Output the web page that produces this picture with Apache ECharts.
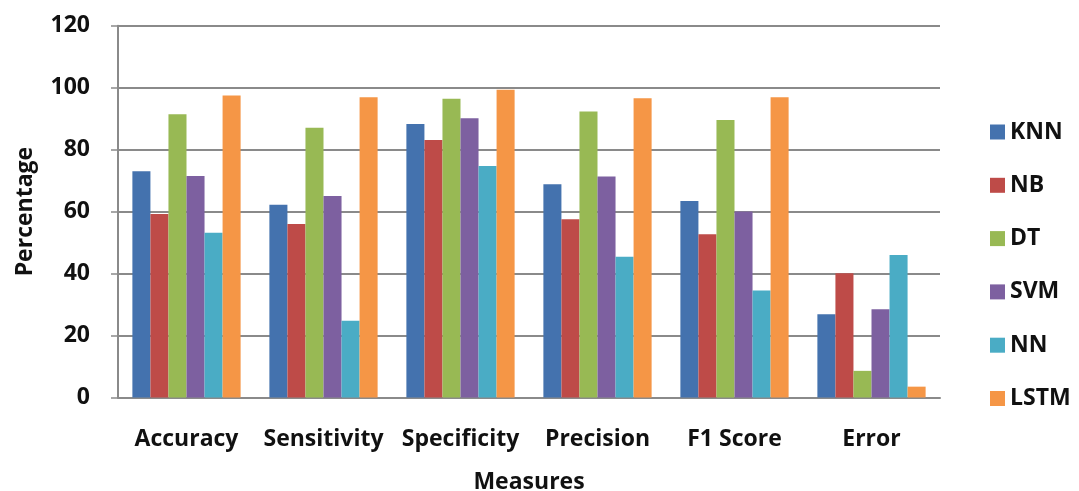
<!DOCTYPE html>
<html>
<head>
<meta charset="utf-8">
<script src="https://cdn.jsdelivr.net/npm/echarts@6/dist/echarts.min.js"></script>
<style>
html,body{margin:0;padding:0;background:#fff;}
#c{width:1079px;height:491px;}
</style>
</head>
<body>
<div id="c"></div>
<script>
const categories = ['Accuracy', 'Sensitivity', 'Specificity', 'Precision', 'F1 Score', 'Error'];
const seriesNames = ['KNN', 'NB', 'DT', 'SVM', 'NN', 'LSTM'];
const KNN  = [73, 62.2, 88.3, 68.8, 63.4, 26.9];
const NB   = [59.2, 56, 83.1, 57.5, 52.7, 40.1];
const DT   = [91.4, 87.1, 96.4, 92.3, 89.6, 8.6];
const SVM  = [71.5, 65, 90.1, 71.3, 60, 28.5];
const NN   = [53.2, 24.8, 74.7, 45.4, 34.5, 46];
const LSTM = [97.5, 96.9, 99.3, 96.6, 96.9, 3.5];
const yTicks = [0, 20, 40, 60, 80, 100, 120];
const colors = ['#4472AE', '#BE4B48', '#98B954', '#7D60A0', '#4AACC5', '#F59646'];

const dataSets = [KNN, NB, DT, SVM, NN, LSTM];
const font = 'Open Sans, Liberation Sans, sans-serif';

const chart = echarts.init(document.getElementById('c'), null, {renderer: 'canvas'});
chart.setOption({
  animation: false,
  color: colors,
  grid: {left: 118, right: 139, top: 25.7, bottom: 93.5, containLabel: false, outerBoundsMode: 'none'},
  legend: {
    orient: 'vertical',
    left: 985,
    top: 115.5,
    itemWidth: 15,
    itemHeight: 15,
    itemGap: 30.3,
    icon: 'rect',
    textStyle: {fontFamily: font, fontWeight: 'bold', fontSize: 23, color: '#111'},
    data: seriesNames
  },
  xAxis: {
    type: 'category',
    data: categories,
    name: 'Measures',
    nameLocation: 'middle',
    nameGap: 73,
    nameTextStyle: {fontFamily: font, fontWeight: 'bold', fontSize: 23, color: '#111'},
    axisLine: {lineStyle: {color: '#8a8a8a', width: 2}},
    axisTick: {show: false},
    axisLabel: {interval: 0, hideOverlap: false, fontFamily: font, fontWeight: 'bold', fontSize: 23, color: '#111', margin: 30}
  },
  yAxis: {
    type: 'value',
    min: 0, max: 120, interval: 20,
    name: 'Percentage',
    nameLocation: 'middle',
    nameGap: 81,
    nameRotate: 90,
    nameTextStyle: {fontFamily: font, fontWeight: 'bold', fontSize: 23, color: '#111'},
    axisLine: {show: true, lineStyle: {color: '#8a8a8a', width: 2}},
    axisTick: {show: true, inside: false, length: 7, lineStyle: {color: '#8a8a8a', width: 1.5}},
    splitLine: {show: true, lineStyle: {color: '#8a8a8a', width: 2}},
    axisLabel: {fontFamily: font, fontWeight: 'bold', fontSize: 23, color: '#111', margin: 28,
      formatter: v => yTicks.includes(v) ? String(v) : ''}
  },
  series: seriesNames.map((n, i) => ({
    name: n,
    type: 'bar',
    data: dataSets[i],
    barGap: '0%',
    barCategoryGap: '21%'
  }))
});
</script>
</body>
</html>
